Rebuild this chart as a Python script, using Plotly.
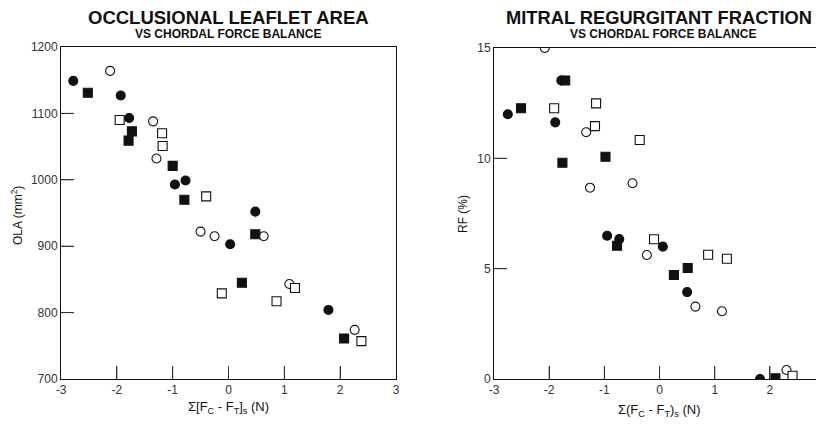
import plotly.graph_objects as go

# Page body has an 8px margin, so the figure is offset by (8, 8) in the window.
OFF = 8
W, H = 824 - OFF, 424 - OFF

# ---- Data: Occlusional leaflet area (left panel) ----
ola_fc_x = [-2.78, -1.93, -1.78, -0.96, -0.77, 0.03, 0.48, 1.79]
ola_fc_y = [1149, 1127, 1093, 993, 999, 903, 952, 804]
ola_fs_x = [-2.52, -1.73, -1.79, -1.00, -0.79, 0.48, 0.24, 2.07]
ola_fs_y = [1131, 1073, 1059, 1021, 970, 918, 845, 761]
ola_oc_x = [-2.12, -1.35, -1.29, -0.50, -0.25, 0.63, 1.09, 2.26]
ola_oc_y = [1164, 1088, 1032, 922, 915, 915, 843, 774]
ola_os_x = [-1.95, -1.19, -1.18, -0.40, -0.12, 1.19, 0.86, 2.38]
ola_os_y = [1090, 1070, 1051, 975, 829, 837, 817, 757]

# ---- Data: Mitral regurgitant fraction (right panel) ----
rf_fc_x = [-2.75, -1.89, -1.78, -0.95, -0.73, 0.06, 0.50, 1.82]
rf_fc_y = [12.0, 11.63, 13.53, 6.49, 6.34, 6.0, 3.94, 0.0]
rf_fs_x = [-2.51, -1.71, -1.76, -0.98, -0.77, 0.51, 0.26, 2.10]
rf_fs_y = [12.27, 13.53, 9.80, 10.07, 6.04, 5.03, 4.71, 0.03]
rf_oc_x = [-2.08, -1.33, -1.26, -0.49, -0.23, 0.65, 1.13, 2.30]
rf_oc_y = [15.0, 11.18, 8.67, 8.87, 5.62, 3.28, 3.07, 0.41]
rf_os_x = [-1.91, -1.15, -1.17, -0.36, -0.10, 0.88, 1.22, 2.41]
rf_os_y = [12.27, 12.49, 11.46, 10.83, 6.33, 5.63, 5.45, 0.15]

left_xticks = [-3, -2, -1, 0, 1, 2, 3]
left_xlabels = ["-3", "-2", "-1", "0", "1", "2", "3"]
left_yticks = [700, 800, 900, 1000, 1100, 1200]
right_xticks = [-3, -2, -1, 0, 1, 2]
right_xlabels = ["-3", "-2", "-1", "0", "1", "2"]
right_yticks = [0, 5, 10, 15]

FONT = "Liberation Sans, Arial, Helvetica, sans-serif"
INK = "#111111"
TICK = "#333333"

fig = go.Figure()

def add_series(xs, ys, symbol, filled, xa, ya):
    fig.add_trace(go.Scatter(
        x=xs, y=ys, mode="markers", xaxis=xa, yaxis=ya, showlegend=False,
        marker=dict(symbol=symbol, size=9,
                    color=INK if filled else "white",
                    line=dict(color=INK, width=1.1)),
    ))

for xa, ya, d in [("x", "y", (ola_oc_x, ola_oc_y, ola_os_x, ola_os_y, ola_fc_x, ola_fc_y, ola_fs_x, ola_fs_y)),
                  ("x2", "y2", (rf_oc_x, rf_oc_y, rf_os_x, rf_os_y, rf_fc_x, rf_fc_y, rf_fs_x, rf_fs_y))]:
    add_series(d[0], d[1], "circle", False, xa, ya)
    add_series(d[2], d[3], "square", False, xa, ya)
    add_series(d[4], d[5], "circle", True, xa, ya)
    add_series(d[6], d[7], "square", True, xa, ya)

def px_x(p):
    return (p - OFF) / W

def px_y(p):
    return 1 - (p - OFF) / H

axis_common = dict(showgrid=False, zeroline=False, showline=True, linecolor=INK,
                   linewidth=1, ticks="inside", ticklen=13, tickcolor=TICK, tickwidth=1,
                   automargin=False,
                   tickfont=dict(family=FONT, size=12, color="#333"))

fig.update_layout(
    width=W, height=H, margin=dict(l=0, r=0, t=0, b=0, autoexpand=False),
    paper_bgcolor="white", plot_bgcolor="white",
    font=dict(family=FONT, color=INK),
    xaxis=dict(domain=[px_x(61), px_x(396)], range=[-3, 3], tickvals=left_xticks,
               ticktext=left_xlabels, mirror=True, anchor="y", **axis_common),
    yaxis=dict(domain=[px_y(379), px_y(47)], range=[700, 1200], tickvals=left_yticks,
               mirror=True, anchor="x", **axis_common),
    xaxis2=dict(domain=[px_x(494), 1.0], range=[-3, 2.98], tickvals=right_xticks,
                ticktext=right_xlabels, mirror=True, anchor="y2", **axis_common),
    yaxis2=dict(domain=[px_y(379), px_y(48)], range=[0, 15], tickvals=right_yticks,
                mirror=False, anchor="x2", **axis_common),
)

# explicit inward tick marks (derived from the tick lists)
shapes = []
LEN_X, LEN_Y = 13 / 335, 13 / 332
for v in left_xticks[1:-1]:
    shapes.append(dict(type="line", xref="x", yref="y domain", x0=v, x1=v, y0=0, y1=LEN_Y,
                       line=dict(color=TICK, width=1)))
for v in left_yticks[1:-1]:
    shapes.append(dict(type="line", xref="x domain", yref="y", x0=0, x1=LEN_X, y0=v, y1=v,
                       line=dict(color=TICK, width=1)))
for v in right_xticks[1:]:
    shapes.append(dict(type="line", xref="x2", yref="y2 domain", x0=v, x1=v, y0=0, y1=LEN_Y,
                       line=dict(color=TICK, width=1)))
for v in right_yticks[1:-1]:
    shapes.append(dict(type="line", xref="x2 domain", yref="y2", x0=0, x1=13 / 330, y0=v, y1=v,
                       line=dict(color=TICK, width=1)))
fig.update_layout(shapes=shapes)

ann = []
def text(x, y, s, size, angle=0):
    ann.append(dict(x=px_x(x), y=px_y(y), xref="paper", yref="paper", text=s,
                    showarrow=False, textangle=angle, xanchor="center", yanchor="middle",
                    borderpad=0,
                    font=dict(family=FONT, size=size, color=INK)))

text(229, 17, "<b>OCCLUSIONAL LEAFLET AREA</b>", 18.5)
text(228, 34, "<b>VS CHORDAL FORCE BALANCE</b>", 12)
text(659, 17, "<b>MITRAL REGURGITANT FRACTION</b>", 18.3)
text(663, 34, "<b>VS CHORDAL FORCE BALANCE</b>", 12)
text(17, 216, "OLA (mm<sup>2</sup>)", 12, angle=-90)
text(463, 214, "RF (%)", 12, angle=-90)
text(228, 407, "Σ[F<sub>C</sub> - F<sub>T</sub>]<sub>s</sub> (N)", 13)
text(659, 410, "Σ(F<sub>C</sub> - F<sub>T</sub>)<sub>s</sub> (N)", 13)
fig.update_layout(annotations=ann)

fig.write_html("out.html")
